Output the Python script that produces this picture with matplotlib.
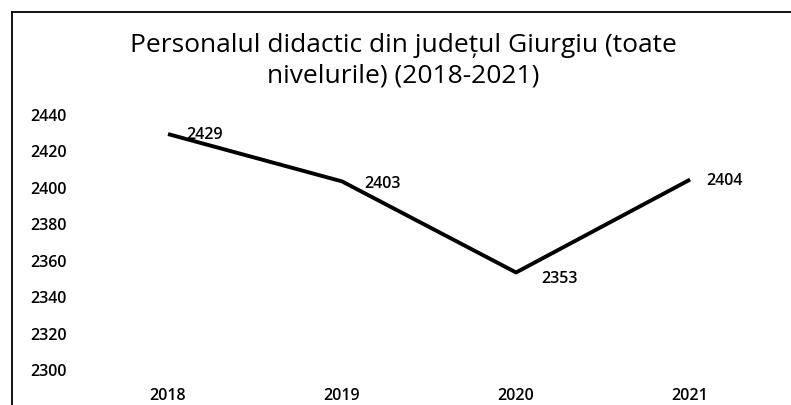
import matplotlib
matplotlib.use("Agg")
import matplotlib.pyplot as plt
from matplotlib.lines import Line2D

plt.rcParams['font.family'] = ['Open Sans', 'DejaVu Sans']

years = ['2018', '2019', '2020', '2021']
staff = [2429, 2403, 2353, 2404]
yticks = [2300, 2320, 2340, 2360, 2380, 2400, 2420, 2440]
title = 'Personalul didactic din județul Giurgiu (toate\nnivelurile) (2018-2021)'

fig = plt.figure(figsize=(7.91, 4.06), dpi=100)
ax = fig.add_axes([0.1024, 0.0887, 0.880, 0.628])

x = list(range(len(years)))
ax.plot(x, staff, color='black', lw=2.8, solid_capstyle='butt')

# data labels, placed right of each point
offs = [(13, 0), (16, -1), (18, -4), (12, 0)]
for xi, v, o in zip(x, staff, offs):
    ax.annotate(str(v), (xi, v), xytext=o, textcoords='offset points',
                ha='left', va='center', fontsize=11.5, color='black',
                fontweight='semibold')

ax.set_xlim(-0.5, len(years) - 0.5)
ax.set_ylim(2300, 2440)
ax.set_yticks(yticks)
ax.set_xticks(x)
ax.set_xticklabels(years)
ax.tick_params(axis='both', length=0, labelsize=11.5, colors='black')
ax.tick_params(axis='y', pad=10)
ax.tick_params(axis='x', pad=13)
for lab in ax.get_xticklabels() + ax.get_yticklabels():
    lab.set_fontweight('semibold')
for s in ax.spines.values():
    s.set_visible(False)

fig.text(0.51, 0.85, title, ha='center', va='center', fontsize=19,
         linespacing=1.3)

# outer chart frame (scanned, only top and left edges visible)
fig.add_artist(Line2D([12/791, 12/791], [0, 1 - 13/406],
                      transform=fig.transFigure, color='black', lw=1.3))
fig.add_artist(Line2D([12/791, 1], [1 - 13/406, 1 - 13/406],
                      transform=fig.transFigure, color='black', lw=1.3))

fig.savefig('out.png', dpi=100)
